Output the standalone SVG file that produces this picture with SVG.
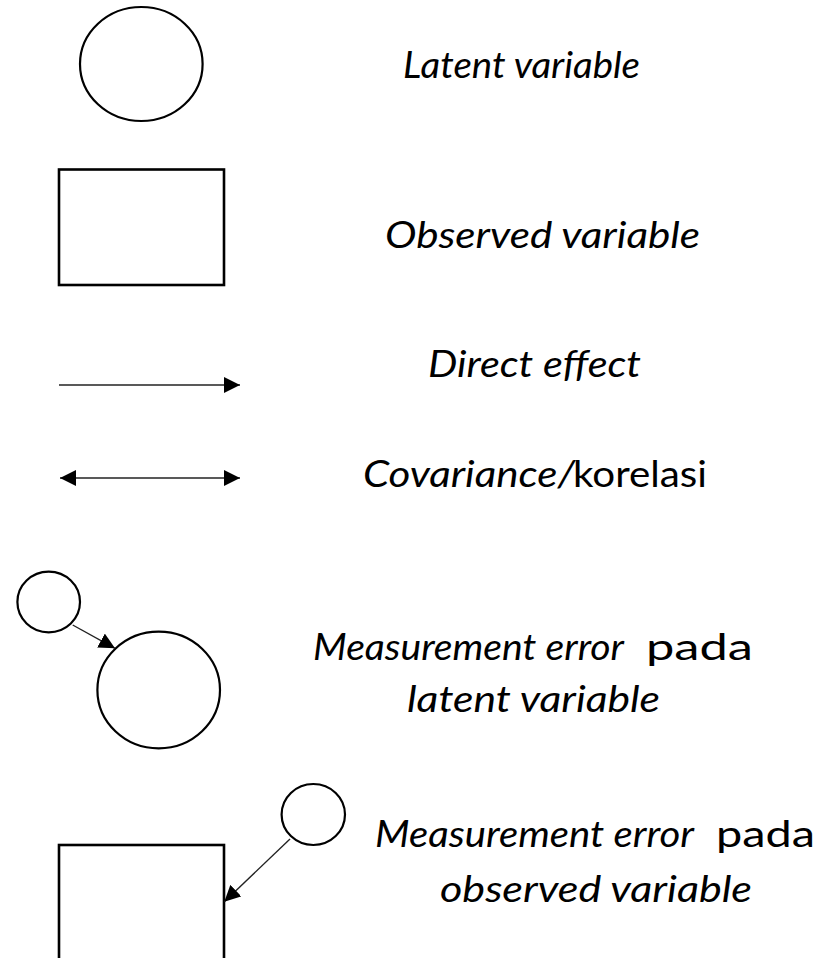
<svg xmlns="http://www.w3.org/2000/svg" width="826" height="958" viewBox="0 0 826 958">
<style>
.shape{fill:#fff;stroke:#000;stroke-width:2.2}
.rect{fill:#fff;stroke:#000;stroke-width:2.6}
.conn{stroke:#222;stroke-width:1.4;fill:none}
.t{font-family:Lato,"Open Sans","Liberation Sans",sans-serif;font-size:37px;fill:#000}
.i{font-style:italic}
</style>
<defs>
<marker id="ah" markerUnits="userSpaceOnUse" markerWidth="16" markerHeight="16" viewBox="0 0 15 15" refX="15" refY="7.5" orient="auto-start-reverse">
<path d="M0,0 L15,7.5 L0,15 z" fill="#000"/>
</marker>
</defs>
<rect width="826" height="958" fill="#fff"/>
<g id="latent">
<ellipse class="shape" cx="141.3" cy="64" rx="61.3" ry="57"/>
<text class="t i" x="403" y="78" textLength="237" lengthAdjust="spacingAndGlyphs">Latent variable</text>
</g>
<g id="observed">
<rect class="rect" x="59" y="169.5" width="165" height="115.5"/>
<text class="t i" x="385" y="248" textLength="315" lengthAdjust="spacingAndGlyphs">Observed variable</text>
</g>
<g id="direct-effect">
<text class="t i" x="428" y="377" textLength="213" lengthAdjust="spacingAndGlyphs">Direct effect</text>
</g>
<g id="covariance">
<text class="t i" x="363" y="487" textLength="212" lengthAdjust="spacingAndGlyphs">Covariance/</text>
<text class="t" x="573" y="487" textLength="134" lengthAdjust="spacingAndGlyphs">korelasi</text>
</g>
<g id="error-latent">
<ellipse class="shape" cx="48.7" cy="602" rx="31.3" ry="30.3"/>
<ellipse class="shape" cx="158.7" cy="690" rx="61.3" ry="58.3"/>
<text class="t i" x="313" y="660" textLength="311" lengthAdjust="spacingAndGlyphs">Measurement error</text>
<text class="t" x="646" y="660" textLength="107" lengthAdjust="spacingAndGlyphs">pada</text>
<text class="t i" x="407" y="712" textLength="253" lengthAdjust="spacingAndGlyphs">latent variable</text>
</g>
<g id="error-observed">
<ellipse class="shape" cx="313.3" cy="814.5" rx="31.7" ry="30.5"/>
<rect class="rect" x="59" y="845" width="165" height="130"/>
<text class="t i" x="375" y="847" textLength="319" lengthAdjust="spacingAndGlyphs">Measurement error</text>
<text class="t" x="716" y="847" textLength="99" lengthAdjust="spacingAndGlyphs">pada</text>
<text class="t i" x="440" y="902" textLength="312" lengthAdjust="spacingAndGlyphs">observed variable</text>
</g>
<g id="connectors">
<line class="conn" x1="59" y1="385" x2="240" y2="385" marker-end="url(#ah)"/>
<line class="conn" x1="60" y1="478" x2="240" y2="478" marker-start="url(#ah)" marker-end="url(#ah)"/>
<line class="conn" x1="72.7" y1="625" x2="115" y2="648.3" marker-end="url(#ah)"/>
<line class="conn" x1="290" y1="839" x2="224.3" y2="901.7" marker-end="url(#ah)"/>
</g>
</svg>
